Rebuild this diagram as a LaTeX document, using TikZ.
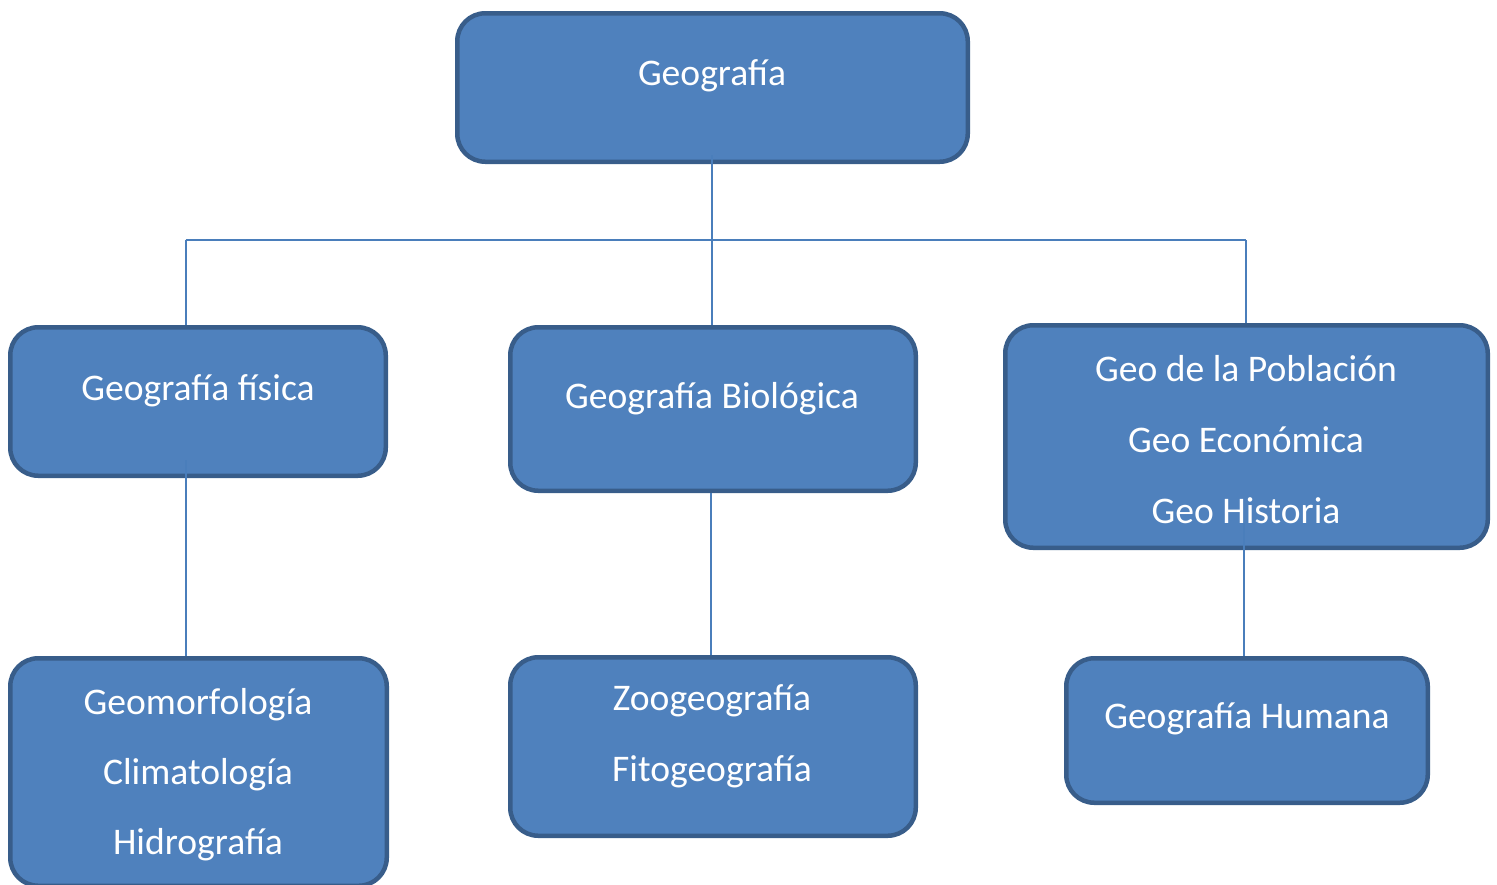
\documentclass[tikz,border=0pt]{standalone}
\usepackage{fontspec}
\setmainfont{Carlito}
\definecolor{boxfill}{HTML}{4F81BD}
\definecolor{boxedge}{HTML}{385D8A}
\definecolor{linkcol}{HTML}{4A7EBB}
\tikzset{
  box/.style={draw=boxedge, fill=boxfill, line width=2.25pt, rounded corners=14pt, inner sep=0pt},
  lbl/.style={text=white, anchor=base, inner sep=0pt, font=\fontsize{18.8}{22}\selectfont},
  link/.style={draw=linkcol, line width=1pt}
}
\begin{document}
\begin{tikzpicture}[x=0.5pt,y=-0.5pt]
\useasboundingbox (0,0) rectangle (1497,884);
% boxes
\node[box, minimum width=255.25pt, minimum height=74.25pt] (root) at (712.5,87.5) {};
\node[box, minimum width=187.75pt, minimum height=74.25pt] (fis) at (198,401.5) {};
\node[box, minimum width=202.75pt, minimum height=81.75pt] (bio) at (713,409) {};
\node[box, minimum width=241.25pt, minimum height=111.25pt] (pob) at (1246.5,436.5) {};
\node[box, minimum width=188.25pt, minimum height=113.75pt] (geo) at (198.5,772) {};
\node[box, minimum width=202.75pt, minimum height=89.25pt] (zoo) at (713,746.5) {};
\node[box, minimum width=180.75pt, minimum height=72.25pt] (hum) at (1247,730.5) {};
% texts
\node[lbl] (troot) at (712,85) {Geografía};
\node[lbl] (tfis) at (198,400) {Geografía física};
\node[lbl] (tbio) at (712,408) {Geografía Biológica};
\node[lbl] (tpob1) at (1246,381) {Geo de la Población};
\node[lbl] (tpob2) at (1246,452) {Geo Económica};
\node[lbl] (tpob3) at (1246,523) {Geo Historia};
\node[lbl] (tgeo1) at (198,714) {Geomorfología};
\node[lbl] (tgeo2) at (198,784) {Climatología};
\node[lbl] (tgeo3) at (198,854) {Hidrografía};
\node[lbl] (tzoo1) at (712,710) {Zoogeografía};
\node[lbl] (tzoo2) at (712,781) {Fitogeografía};
\node[lbl] (thum) at (1247,728) {Geografía Humana};
% connector coordinates
\coordinate (rootlow) at (712,155);
\coordinate (jl) at (185.5,240);
\coordinate (jm) at (712,240);
\coordinate (jr) at (1245.5,240);
\coordinate (fislow) at (186,460);
\coordinate (poblow) at (1244,523);
% connectors
\draw[link] (jl) -- (jr);
\draw[link] (rootlow) -- (jm) -- (bio.north -| jm);
\draw[link] (jl) -- (fis.north -| jl);
\draw[link] (jr) -- (pob.north -| jr);
\draw[link] (fislow) -- (geo.north -| fislow);
\draw[link] (bio.south -| 711,0) -- (zoo.north -| 711,0);
\draw[link] (poblow) -- (hum.north -| poblow);
\end{tikzpicture}
\end{document}
